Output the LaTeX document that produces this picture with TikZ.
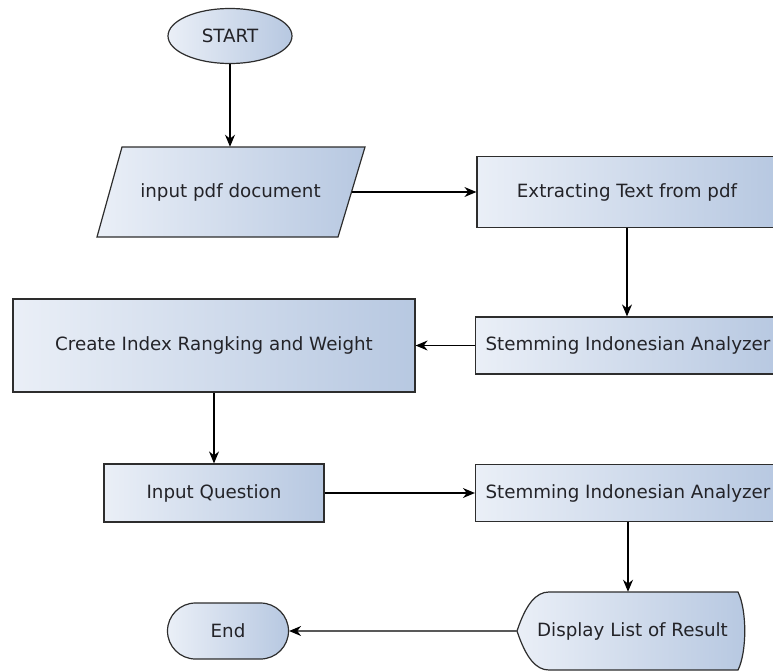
\documentclass[tikz,border=0pt]{standalone}
\usepackage{fontspec}
\setmainfont{DejaVu Sans}
\usetikzlibrary{arrows.meta,shapes.geometric,shapes.misc}

\definecolor{boxlight}{RGB}{234,239,247}
\definecolor{boxdark}{RGB}{183,200,225}
\definecolor{boxline}{RGB}{45,45,45}
\definecolor{boxtext}{RGB}{35,35,40}

\begin{document}
\begin{tikzpicture}[x=0.75pt,y=-0.75pt,
  flowfill/.style={draw=boxline,line width=0.9pt,left color=boxlight,right color=boxdark},
  flowtext/.style={rectangle,inner sep=0pt,text=boxtext,font=\fontsize{13.7}{16}\selectfont},
  flowbox/.style={flowfill,flowtext},
  flowarrow/.style={draw=black,line width=0.8pt,-{Stealth[length=9pt,width=7.5pt]}}]
\clip (0,0) rectangle (773,671);

\node[flowbox,ellipse,minimum width=93pt,minimum height=41.25pt] (start) at (230,36) {START};

% input symbol
\path[flowfill] (122,147) -- (365,147) -- (338,237) -- (97,237) -- cycle;
\node[flowtext,minimum width=181.5pt,minimum height=67.5pt] (input) at (230.5,192) {input pdf document};

\node[flowbox,minimum width=225pt,minimum height=53.25pt] (extract) at (627,192) {Extracting Text from pdf};
\node[flowbox,minimum width=228.75pt,minimum height=42.75pt] (stem1) at (628,345.5) {Stemming Indonesian Analyzer};
\node[flowbox,minimum width=301.5pt,minimum height=69.75pt] (index) at (214,345.5) {Create Index Rangking and Weight};
\node[flowbox,minimum width=165pt,minimum height=43.5pt] (question) at (214,493) {Input Question};
\node[flowbox,minimum width=228.75pt,minimum height=42.75pt] (stem2) at (628,493) {Stemming Indonesian Analyzer};

% display symbol
\path[flowfill] (517,631) .. controls (526,604) and (536,592) .. (549,592) -- (738,592)
  .. controls (747,610) and (747,652) .. (738,670) -- (549,670)
  .. controls (536,670) and (526,658) .. (517,631) -- cycle;
\node[flowtext,minimum width=173.25pt,minimum height=58.5pt] (display) at (632.5,631) {Display List of Result};
\node[flowbox,rounded rectangle,minimum width=90.75pt,minimum height=42pt] (stop) at (228,631) {End};

\draw[flowarrow] (start) -- (start |- input.north);
\draw[flowarrow] (input) -- (extract);
\draw[flowarrow] (extract.south) -- (extract.south |- stem1.north);
\draw[flowarrow] (stem1) -- (index);
\draw[flowarrow] (index) -- (question);
\draw[flowarrow] (question) -- (stem2);
\draw[flowarrow] (stem2.south) -- (stem2.south |- display.north);
\draw[flowarrow] (display) -- (stop);
\end{tikzpicture}
\end{document}
